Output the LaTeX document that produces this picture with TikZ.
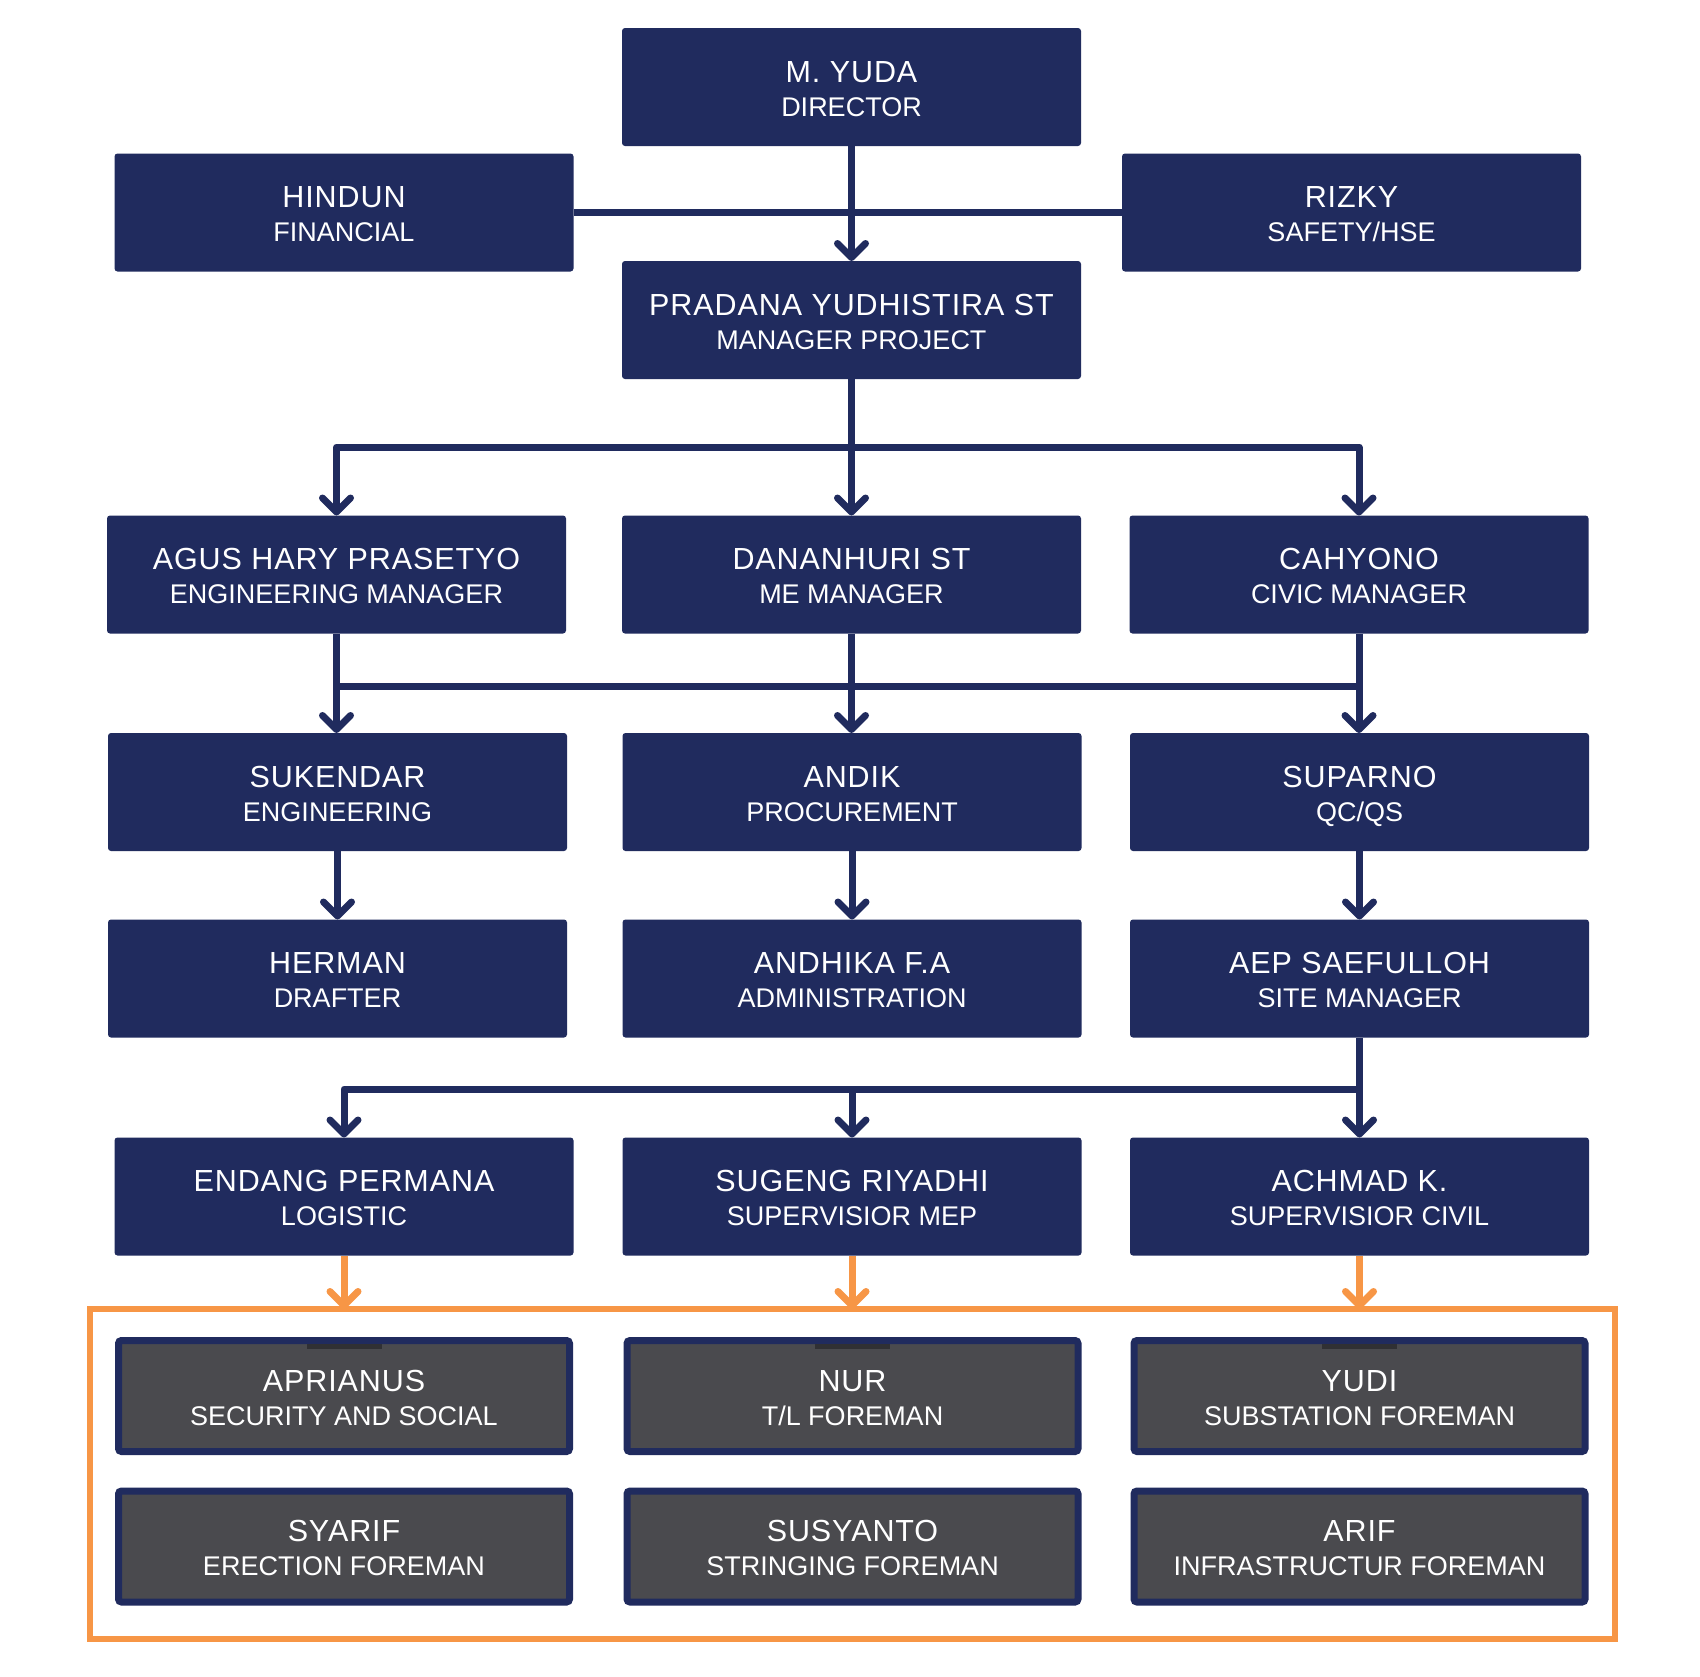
\documentclass[tikz,border=0pt]{standalone}
\usepackage{fontspec}
\setmainfont{Liberation Sans}
\newfontfamily\nmfamily[LetterSpace=3]{Liberation Sans}
\usetikzlibrary{arrows.meta,calc}
\definecolor{navy}{RGB}{32,43,94}
\definecolor{boxgray}{RGB}{74,74,78}
\definecolor{tabgray}{RGB}{48,48,52}
\definecolor{orng}{RGB}{247,150,70}
\newcommand{\nm}[1]{{\nmfamily\fontsize{30.5}{34}\selectfont\rule{0pt}{30pt}#1}}
\newcommand{\tl}[1]{{\fontsize{27}{34}\selectfont #1\rule[-6pt]{0pt}{6pt}}}
\begin{document}
\begin{tikzpicture}[x=1pt,y=-1pt,
  navybox/.style={rectangle, fill=navy, rounded corners=3pt, minimum width=459pt,
    minimum height=118pt, inner sep=0pt, outer sep=0pt, text=white, align=center,
    font=\fontsize{27}{34}\selectfont},
  graybox/.style={rectangle, fill=boxgray, draw=navy, line width=7pt, rounded corners=3pt,
    minimum width=451pt, minimum height=111pt, inner sep=0pt, outer sep=0pt, text=white,
    align=center, font=\fontsize{27}{34}\selectfont},
  ln/.style={draw=navy, line width=7pt, line join=round},
  arr/.style={ln, -{Straight Barb[length=14pt,width=28pt,line cap=round,line join=round]}},
  oarr/.style={draw=orng, line width=7pt, -{Straight Barb[length=14pt,width=28pt,line cap=round,line join=round]}},
  tabmark/.style={fill=tabgray}
]
\useasboundingbox (0,0) rectangle (1700,1676);
\fill[white] (0,0) rectangle (1700,1676);

% orange frame
\node[draw=orng, line width=6pt, minimum width=1525pt, minimum height=330pt, inner sep=0pt, outer sep=0pt] (frame) at (852.5,1474) {};

% navy boxes
\node[navybox] (dir) at (851.5,87) {\nm{M. YUDA}\\\tl{DIRECTOR}};
\node[navybox] (hin) at (344,212.5) {\nm{HINDUN}\\\tl{FINANCIAL}};
\node[navybox] (riz) at (1351.5,212.5) {\nm{RIZKY}\\\tl{SAFETY/HSE}};
\node[navybox] (pm) at (851.5,320) {\nm{PRADANA YUDHISTIRA ST}\\\tl{MANAGER PROJECT}};

\node[navybox] (agus) at (336.5,574.5) {\nm{AGUS HARY PRASETYO}\\\tl{ENGINEERING MANAGER}};
\node[navybox] (dan) at (851.5,574.5) {\nm{DANANHURI ST}\\\tl{ME MANAGER}};
\node[navybox] (cah) at (1359,574.5) {\nm{CAHYONO}\\\tl{CIVIC MANAGER}};

\node[navybox] (suk) at (337.5,792) {\nm{SUKENDAR}\\\tl{ENGINEERING}};
\node[navybox] (andik) at (852,792) {\nm{ANDIK}\\\tl{PROCUREMENT}};
\node[navybox] (sup) at (1359.5,792) {\nm{SUPARNO}\\\tl{QC/QS}};

\node[navybox] (her) at (337.5,978.5) {\nm{HERMAN}\\\tl{DRAFTER}};
\node[navybox] (andh) at (852,978.5) {\nm{ANDHIKA F.A}\\\tl{ADMINISTRATION}};
\node[navybox] (aep) at (1359.5,978.5) {\nm{AEP SAEFULLOH}\\\tl{SITE MANAGER}};

\node[navybox] (end) at (344,1196.5) {\nm{ENDANG PERMANA}\\\tl{LOGISTIC}};
\node[navybox] (sug) at (852,1196.5) {\nm{SUGENG RIYADHI}\\\tl{SUPERVISIOR MEP}};
\node[navybox] (ach) at (1359.5,1196.5) {\nm{ACHMAD K.}\\\tl{SUPERVISIOR CIVIL}};

% gray boxes
\node[graybox] (apr) at (344,1396) {\nm{APRIANUS}\\\tl{SECURITY AND SOCIAL}};
\node[graybox] (nur) at (852.5,1396) {\nm{NUR}\\\tl{T/L FOREMAN}};
\node[graybox] (yudi) at (1359.5,1396) {\nm{YUDI}\\\tl{SUBSTATION FOREMAN}};
\node[graybox] (sya) at (344,1546.5) {\nm{SYARIF}\\\tl{ERECTION FOREMAN}};
\node[graybox] (susy) at (852.5,1546.5) {\nm{SUSYANTO}\\\tl{STRINGING FOREMAN}};
\node[graybox] (arif) at (1359.5,1546.5) {\nm{ARIF}\\\tl{INFRASTRUCTUR FOREMAN}};

\foreach \g in {apr,nur,yudi}{
  \fill[tabmark] ($(\g.north)+(-37.5,3.5)$) rectangle ($(\g.north)+(37.5,8.5)$);
}

% junction coordinates
\coordinate (j1) at (851.5,447);
\coordinate (j2) at (851.5,686);
\coordinate (j3) at (1359.5,1089);

% connectors
\draw[ln] (hin.east) -- (riz.west);
\draw[arr] (dir.south) -- (pm.north);

\draw[ln] (pm.south) -- (j1);
\draw[arr] (j1) -| (agus.north);
\draw[arr] (j1) -| (cah.north);
\draw[arr] (j1) -- (dan.north);

\draw[ln] (agus.south |- j2) -- (cah.south |- j2);
\draw[arr] (agus.south) -- (agus.south |- suk.north);
\draw[arr] (dan.south) -- (dan.south |- andik.north);
\draw[arr] (cah.south) -- (cah.south |- sup.north);

\draw[arr] (suk.south) -- (suk.south |- her.north);
\draw[arr] (andik.south) -- (andh.north);
\draw[arr] (sup.south) -- (aep.north);

\draw[arr] (aep.south) -- (ach.north);
\draw[arr] (j3) -| (end.north);
\draw[arr] (sug.north |- j3) -- (sug.north);

\draw[oarr] (end.south) -- (end.south |- frame.north);
\draw[oarr] (sug.south) -- (sug.south |- frame.north);
\draw[oarr] (ach.south) -- (ach.south |- frame.north);
\end{tikzpicture}
\end{document}
